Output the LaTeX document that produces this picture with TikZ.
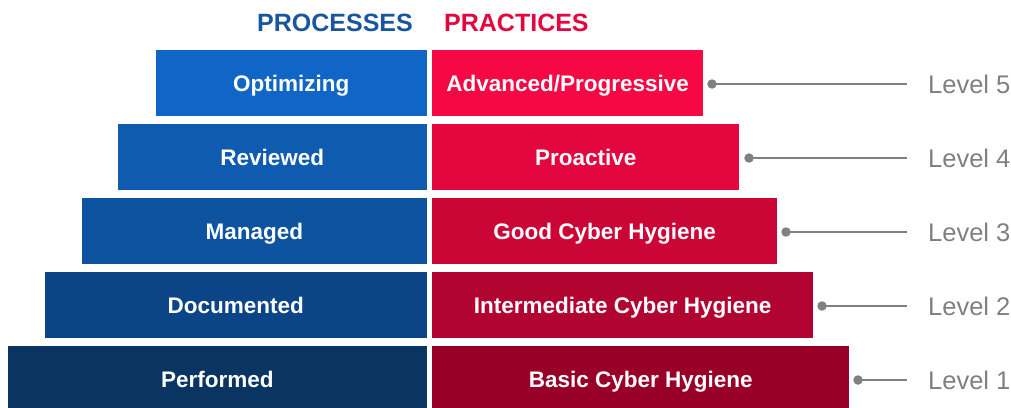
\documentclass[tikz,border=0pt]{standalone}
\usepackage{fontspec}
\setmainfont{Liberation Sans}
\usepackage{xcolor}
\usetikzlibrary{positioning}

\definecolor{procblue}{HTML}{1A55A0}
\definecolor{pracred}{HTML}{E5063E}
\definecolor{blueA}{HTML}{1066C6}
\definecolor{blueB}{HTML}{0F5BB0}
\definecolor{blueC}{HTML}{0D53A0}
\definecolor{blueD}{HTML}{0B4587}
\definecolor{blueE}{HTML}{0A3462}
\definecolor{redA}{HTML}{F50843}
\definecolor{redB}{HTML}{E3063F}
\definecolor{redC}{HTML}{CB0535}
\definecolor{redD}{HTML}{B20430}
\definecolor{redE}{HTML}{990027}
\definecolor{levelgray}{HTML}{808080}

\begin{document}
\begin{tikzpicture}[x=1pt,y=-1pt]
\tikzset{block/.style={inner sep=0pt,minimum height=66pt,text=white,
  text height=16pt,text depth=0pt,
  font=\fontsize{22.5}{24}\selectfont\bfseries}}
\tikzset{head/.style={inner sep=0pt,text height=18pt,text depth=0pt,
  font=\fontsize{25}{28}\selectfont\bfseries}}
\tikzset{levellabel/.style={inner sep=0pt,anchor=west,text=levelgray,
  text height=18pt,text depth=0pt,font=\fontsize{25.5}{28}\selectfont}}
\tikzset{dot/.style={circle,fill=levelgray,inner sep=0pt,minimum size=9.5pt}}
\tikzset{levelline/.style={draw=levelgray,line width=2.6pt,shorten >=21pt}}
\useasboundingbox (0,0) rectangle (1011,407);

% headings
\node[head,text=procblue,anchor=east](processes) at (413,22){PROCESSES};
\node[head,text=pracred,anchor=west](practices) at (444,22){PRACTICES};

% processes
\node[block,fill=blueA,minimum width=271pt,anchor=east](q5) at (427,83){Optimizing};
\node[block,fill=blueB,minimum width=309pt,anchor=east](q4) at (427,157){Reviewed};
\node[block,fill=blueC,minimum width=345pt,anchor=east](q3) at (427,231){Managed};
\node[block,fill=blueD,minimum width=382pt,anchor=east](q2) at (427,305){Documented};
\node[block,fill=blueE,minimum width=419pt,anchor=east](q1) at (427,379){Performed};

% practices
\node[block,fill=redA,minimum width=271pt,anchor=west](p5) at (432,83){Advanced/Progressive};
\node[block,fill=redB,minimum width=307pt,anchor=west](p4) at (432,157){Proactive};
\node[block,fill=redC,minimum width=345pt,anchor=west](p3) at (432,231){Good Cyber Hygiene};
\node[block,fill=redD,minimum width=381pt,anchor=west](p2) at (432,305){Intermediate Cyber Hygiene};
\node[block,fill=redE,minimum width=417pt,anchor=west](p1) at (432,379){Basic Cyber Hygiene};

% levels
\node[levellabel](l5) at (928,84){Level 5};
\node[levellabel](l4) at (928,158){Level 4};
\node[levellabel](l3) at (928,232){Level 3};
\node[levellabel](l2) at (928,306){Level 2};
\node[levellabel](l1) at (928,380){Level 1};

\node[dot](d5) at (712,84){};
\node[dot](d4) at (749,158){};
\node[dot](d3) at (786,232){};
\node[dot](d2) at (822,306){};
\node[dot](d1) at (858,380){};

\draw[levelline] (d5.center) -- (d5 -| l5.west);
\draw[levelline] (d4.center) -- (d4 -| l4.west);
\draw[levelline] (d3.center) -- (d3 -| l3.west);
\draw[levelline] (d2.center) -- (d2 -| l2.west);
\draw[levelline] (d1.center) -- (d1 -| l1.west);
\end{tikzpicture}
\end{document}
